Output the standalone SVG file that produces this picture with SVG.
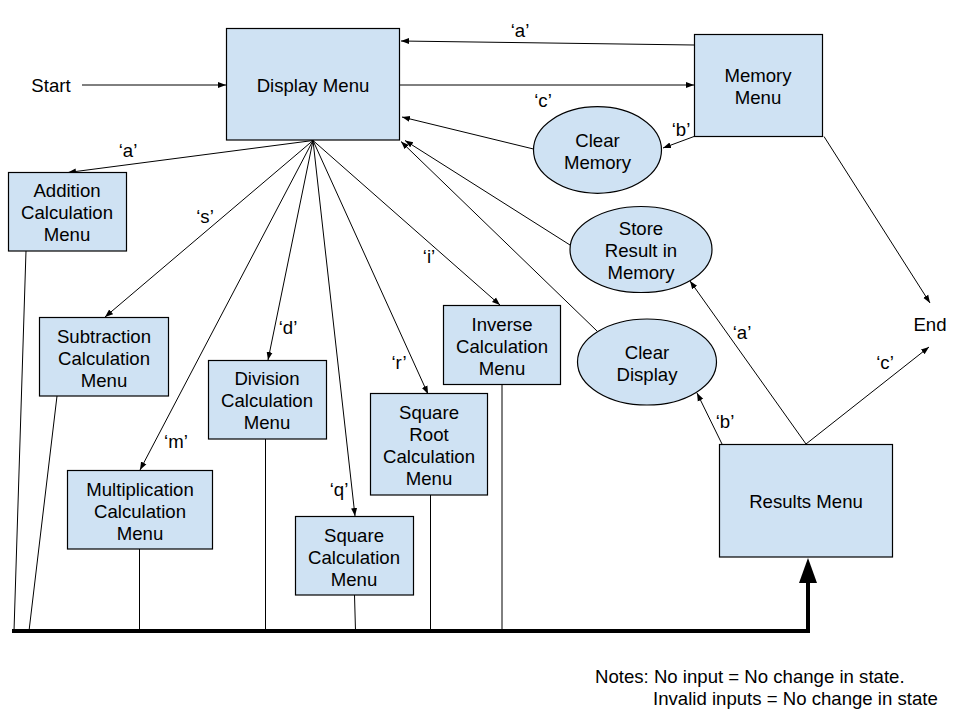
<svg xmlns="http://www.w3.org/2000/svg" width="960" height="720" viewBox="0 0 960 720">
<style>
.n{fill:#cfe2f3;stroke:#000;stroke-width:1.2}
.t{font-family:"Liberation Sans",Arial,sans-serif;font-size:18.6px;fill:#000;text-anchor:middle}
.l{font-family:"Liberation Sans",Arial,sans-serif;font-size:18.6px;fill:#000;text-anchor:middle}
.c{stroke:#000;stroke-width:1;fill:none}
.a{marker-end:url(#ah)}
.bus{stroke:#000;stroke-width:4;fill:none}
</style>
<defs>
<marker id="ah" markerUnits="userSpaceOnUse" markerWidth="9" markerHeight="8" refX="8" refY="3.5" orient="auto">
<path d="M0,0.5 L8,3.5 L0,6.5 Z" fill="#000"/>
</marker>
</defs>
<rect width="960" height="720" fill="#fff"/>

<g id="connectors">
<line class="c a" x1="82" y1="85" x2="226" y2="85"/>
<line class="c a" x1="694" y1="45" x2="401" y2="41"/>
<line class="c a" x1="400" y1="85" x2="694" y2="85"/>
<line class="c a" x1="694" y1="136.5" x2="663" y2="148"/>
<line class="c a" x1="533.5" y1="149" x2="402" y2="117"/>
<line class="c a" x1="570" y1="245" x2="405" y2="140.5"/>
<line class="c a" x1="597" y1="331" x2="401" y2="141.5"/>
<line class="c a" x1="824" y1="136.5" x2="930" y2="303"/>
<line class="c a" x1="806" y1="444" x2="929" y2="347"/>
<line class="c a" x1="806" y1="444" x2="690" y2="281"/>
<line class="c a" x1="722" y1="444" x2="697" y2="393"/>
<line class="c a" x1="313" y1="140.5" x2="68" y2="172.5"/>
<line class="c a" x1="313" y1="140.5" x2="105" y2="317"/>
<line class="c a" x1="313" y1="140.5" x2="140" y2="470"/>
<line class="c a" x1="313" y1="140.5" x2="268" y2="360"/>
<line class="c a" x1="313" y1="140.5" x2="355" y2="516"/>
<line class="c a" x1="313" y1="140.5" x2="428" y2="394"/>
<line class="c a" x1="313" y1="140.5" x2="500" y2="305"/>
<line class="c" x1="26" y1="251" x2="14" y2="631"/>
<line class="c" x1="57" y1="396" x2="29" y2="631"/>
<line class="c" x1="139.5" y1="549" x2="139.5" y2="631"/>
<line class="c" x1="265.5" y1="439" x2="265.5" y2="631"/>
<line class="c" x1="354.5" y1="595" x2="355.5" y2="631"/>
<line class="c" x1="430.5" y1="495" x2="430.5" y2="631"/>
<line class="c" x1="502" y1="384" x2="502" y2="631"/>
<polyline class="bus" points="12,631 808,631 808,580"/>
<path d="M808,558 L817,583 L799,583 Z" fill="#000"/>
<text class="l" x="520" y="36.5">‘a’</text>
<text class="l" x="543" y="106.5">‘c’</text>
<text class="l" x="681" y="136">‘b’</text>
<text class="l" x="128" y="156.5">‘a’</text>
<text class="l" x="205" y="223">‘s’</text>
<text class="l" x="429" y="263">‘i’</text>
<text class="l" x="288" y="333.5">‘d’</text>
<text class="l" x="399" y="369">‘r’</text>
<text class="l" x="176" y="448">‘m’</text>
<text class="l" x="339" y="496">‘q’</text>
<text class="l" x="742" y="338.5">‘a’</text>
<text class="l" x="885" y="368.5">‘c’</text>
<text class="l" x="725" y="427.5">‘b’</text>
</g>

<g id="start"><text class="t" x="51" y="91.5">Start</text></g>
<g id="end"><text class="t" x="930" y="330.5">End</text></g>

<g id="display-menu">
<rect class="n" x="226.5" y="28.5" width="173" height="111.5"/>
<text class="t" x="313" y="91.5">Display Menu</text>
</g>
<g id="memory-menu">
<rect class="n" x="694.5" y="34.5" width="128" height="102"/>
<text class="t" x="758" y="81.5">Memory</text>
<text class="t" x="758" y="103.5">Menu</text>
</g>
<g id="addition">
<rect class="n" x="8.5" y="172.5" width="118" height="78.5"/>
<text class="t" x="67" y="197">Addition</text>
<text class="t" x="67" y="219">Calculation</text>
<text class="t" x="67" y="241">Menu</text>
</g>
<g id="subtraction">
<rect class="n" x="39.5" y="317.5" width="129" height="78.5"/>
<text class="t" x="104" y="342.5">Subtraction</text>
<text class="t" x="104" y="364.5">Calculation</text>
<text class="t" x="104" y="386.5">Menu</text>
</g>
<g id="multiplication">
<rect class="n" x="67.5" y="470.5" width="145" height="78.5"/>
<text class="t" x="140" y="495.5">Multiplication</text>
<text class="t" x="140" y="517.5">Calculation</text>
<text class="t" x="140" y="539.5">Menu</text>
</g>
<g id="division">
<rect class="n" x="208.5" y="360.5" width="118" height="78.5"/>
<text class="t" x="267" y="385">Division</text>
<text class="t" x="267" y="407">Calculation</text>
<text class="t" x="267" y="429">Menu</text>
</g>
<g id="square">
<rect class="n" x="295.5" y="516.5" width="118" height="78.5"/>
<text class="t" x="354" y="541.5">Square</text>
<text class="t" x="354" y="563.5">Calculation</text>
<text class="t" x="354" y="585.5">Menu</text>
</g>
<g id="square-root">
<rect class="n" x="370.5" y="393.5" width="117" height="101.5"/>
<text class="t" x="429" y="419">Square</text>
<text class="t" x="429" y="441">Root</text>
<text class="t" x="429" y="463">Calculation</text>
<text class="t" x="429" y="485">Menu</text>
</g>
<g id="inverse">
<rect class="n" x="443.5" y="305.5" width="117" height="79"/>
<text class="t" x="502" y="330.5">Inverse</text>
<text class="t" x="502" y="352.5">Calculation</text>
<text class="t" x="502" y="374.5">Menu</text>
</g>
<g id="results-menu">
<rect class="n" x="719.5" y="444.5" width="173" height="112.5"/>
<text class="t" x="806" y="508">Results Menu</text>
</g>
<g id="clear-memory">
<ellipse class="n" cx="597.5" cy="150" rx="64" ry="43.3"/>
<text class="t" x="597.5" y="146.5">Clear</text>
<text class="t" x="597.5" y="168.5">Memory</text>
</g>
<g id="store-result">
<ellipse class="n" cx="641" cy="249.5" rx="71" ry="43"/>
<text class="t" x="641" y="235">Store</text>
<text class="t" x="641" y="257">Result in</text>
<text class="t" x="641" y="279">Memory</text>
</g>
<g id="clear-display">
<ellipse class="n" cx="647" cy="362" rx="69.5" ry="43"/>
<text class="t" x="647" y="359">Clear</text>
<text class="t" x="647" y="381">Display</text>
</g>

<g id="notes">
<text class="t" style="text-anchor:start" x="595" y="683">Notes: No input = No change in state.</text>
<text class="t" style="text-anchor:start" x="653" y="705">Invalid inputs = No change in state</text>
</g>
</svg>
